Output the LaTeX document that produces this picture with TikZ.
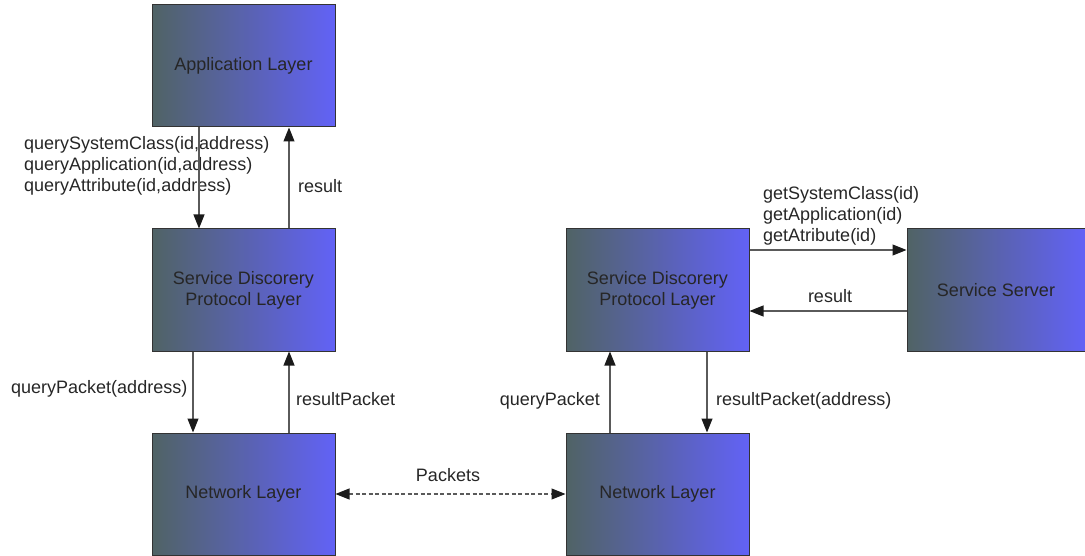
\documentclass[tikz,border=0pt]{standalone}
\usepackage{fontspec}
\setmainfont{Liberation Sans}
\usetikzlibrary{arrows.meta}
\definecolor{shadeL}{RGB}{80,99,101}
\definecolor{shadeR}{RGB}{98,98,246}
\definecolor{edge}{RGB}{51,51,51}
\definecolor{ink}{RGB}{38,38,38}
\definecolor{wire}{RGB}{90,90,90}
\definecolor{tip}{RGB}{26,26,26}
\begin{document}
\begin{tikzpicture}[x=1pt,y=-1pt,
  every node/.style={font=\fontsize{18}{20.8}\selectfont, text=ink},
  layer/.style={draw=edge, line width=1pt, left color=shadeL, right color=shadeR,
    minimum width=183pt, minimum height=122pt, inner sep=0pt, align=center},
  arr/.style={draw=wire, line width=1.1pt, -{Triangle[length=14pt,width=11pt,color=tip,fill=tip]}},
  biarr/.style={draw=wire, line width=1.1pt, dash pattern=on 4pt off 2.5pt,
    {Triangle[length=14pt,width=11pt,color=tip,fill=tip]}-{Triangle[length=14pt,width=11pt,color=tip,fill=tip]}},
  lbl/.style={align=left, inner sep=0pt}
]
\useasboundingbox (0,0) rectangle (1085,556);

% layers of the client stack
\node[layer] (app)  at (243.5,66)  {Application Layer};
\node[layer] (sdpL) at (243.5,290) {Service Discorery\\Protocol Layer};
\node[layer] (netL) at (243.5,494) {Network Layer};

% layers of the server stack
\node[layer] (sdpR) at (657.5,290) {Service Discorery\\Protocol Layer};
\node[layer] (netR) at (657.5,494) {Network Layer};
\node[layer, minimum width=178pt] (srv) at (996,290) {Service Server};

% labels
\node[lbl, anchor=west] (lq)  at (24,166) {querySystemClass(id,address)\\queryApplication(id,address)\\queryAttribute(id,address)};
\node[lbl, anchor=west] (lr)  at (298,186) {result};
\node[lbl, anchor=west] (lqp) at (11,389) {queryPacket(address)};
\node[lbl, anchor=west] (lrp) at (296,399) {resultPacket};
\node[lbl, anchor=east] (rqp) at (600,401) {queryPacket};
\node[lbl, anchor=west] (rrp) at (716,401) {resultPacket(address)};
\node[lbl, anchor=west] (rg)  at (763,216) {getSystemClass(id)\\getApplication(id)\\getAtribute(id)};
\node[lbl] (rr)  at (830,296) {result};
\node[lbl] (pk)  at (448,475) {Packets};

% connectors (xshift/yshift are canvas shifts: positive yshift is upward)
\draw[arr] ([xshift=-44.5pt]app.south) -- ([xshift=-44.5pt]sdpL.north);
\draw[arr] ([xshift=45.5pt]sdpL.north) -- ([xshift=45.5pt]app.south);
\draw[arr] ([xshift=-50.5pt]sdpL.south) -- ([xshift=-50.5pt]netL.north);
\draw[arr] ([xshift=45.5pt]netL.north) -- ([xshift=45.5pt]sdpL.south);
\draw[arr] ([xshift=-47.5pt]netR.north) -- ([xshift=-47.5pt]sdpR.south);
\draw[arr] ([xshift=49.5pt]sdpR.south) -- ([xshift=49.5pt]netR.north);
\draw[arr] ([yshift=40pt]sdpR.east) -- ([yshift=40pt]srv.west);
\draw[arr] ([yshift=-21pt]srv.west) -- ([yshift=-21pt]sdpR.east);
\draw[biarr] (netL.east) -- (netR.west);
\end{tikzpicture}
\end{document}
